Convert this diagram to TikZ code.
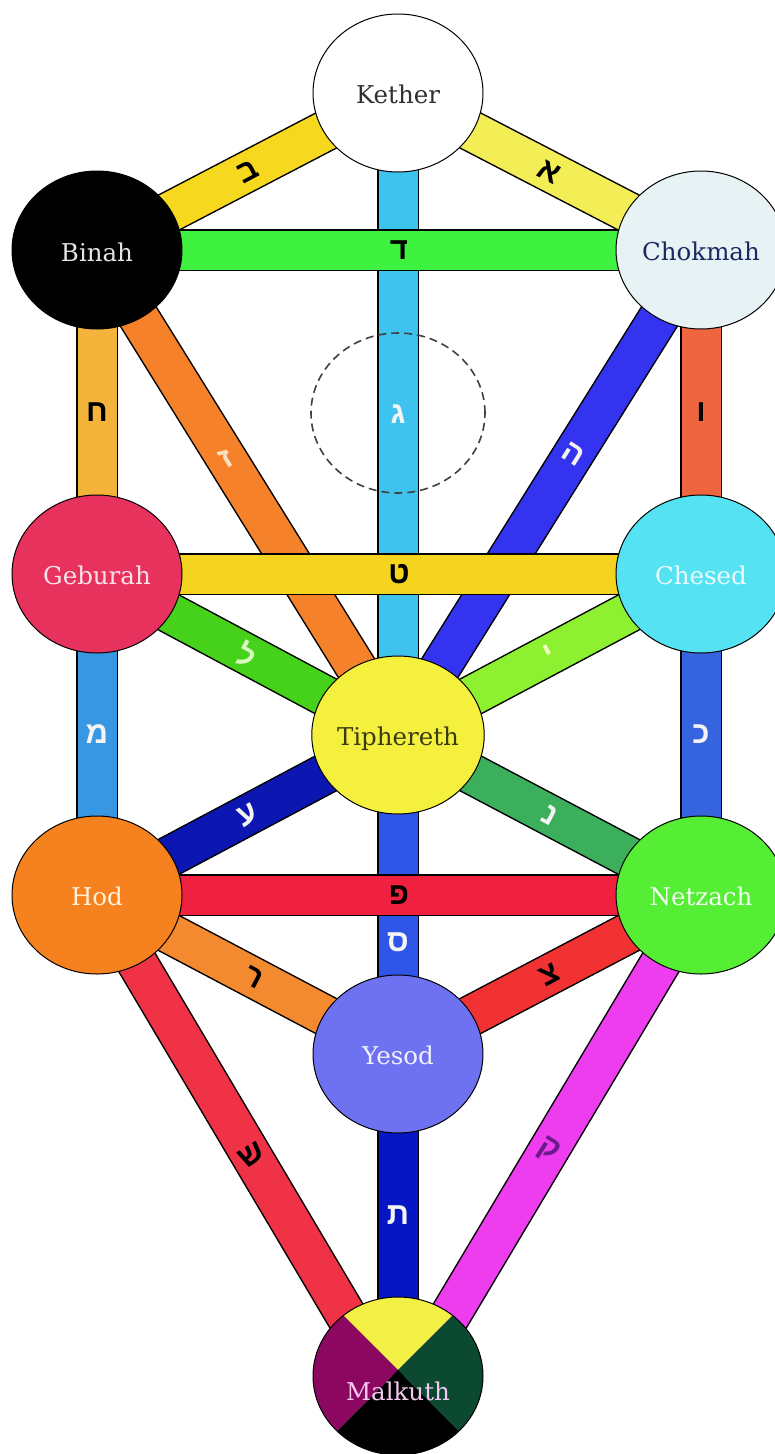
\documentclass[tikz,border=0pt]{standalone}
\usepackage{fontspec}
\setmainfont{DejaVu Serif}
\newfontfamily\hebfont[Script=Hebrew]{Liberation Sans}
\usetikzlibrary{shapes.geometric}
\pgfdeclarelayer{bg}
\pgfsetlayers{bg,main}
% sephiroth colours
\definecolor{cKether}{HTML}{FFFFFF}
\definecolor{tKether}{HTML}{303030}
\definecolor{cChokmah}{HTML}{E6F2F4}
\definecolor{tChokmah}{HTML}{1C2A62}
\definecolor{cBinah}{HTML}{000000}
\definecolor{tBinah}{HTML}{E4E4E4}
\definecolor{cChesed}{HTML}{55E2F2}
\definecolor{tChesed}{HTML}{EAFBFF}
\definecolor{cGeburah}{HTML}{E8325E}
\definecolor{tGeburah}{HTML}{F8E2EA}
\definecolor{cTiphereth}{HTML}{F5F03E}
\definecolor{tTiphereth}{HTML}{3A3A14}
\definecolor{cNetzach}{HTML}{55EE35}
\definecolor{tNetzach}{HTML}{F0FFF0}
\definecolor{cHod}{HTML}{F5821E}
\definecolor{tHod}{HTML}{FFF0D6}
\definecolor{cYesod}{HTML}{6E72F0}
\definecolor{tYesod}{HTML}{F2F2FF}
\definecolor{tMalkuth}{HTML}{F4C8F0}
\definecolor{mYellow}{HTML}{F2F044}
\definecolor{mMaroon}{HTML}{8C0860}
\definecolor{mGreen}{HTML}{0B4A30}
% path colours
\definecolor{pAleph}{HTML}{F3EE55}
\definecolor{pBeth}{HTML}{F6D81F}
\definecolor{pGimel}{HTML}{3EC3EF}
\definecolor{pDaleth}{HTML}{3FF23F}
\definecolor{pHe}{HTML}{3434F0}
\definecolor{pVav}{HTML}{EE6540}
\definecolor{pZayin}{HTML}{F5822A}
\definecolor{pCheth}{HTML}{F4B43C}
\definecolor{pTeth}{HTML}{F4D41E}
\definecolor{pYod}{HTML}{8DF132}
\definecolor{pKaph}{HTML}{3564DE}
\definecolor{pLamed}{HTML}{46D21B}
\definecolor{pMem}{HTML}{3797E3}
\definecolor{pNun}{HTML}{3CAF5C}
\definecolor{pSamekh}{HTML}{2F55E8}
\definecolor{pAyin}{HTML}{0B17B0}
\definecolor{pPe}{HTML}{F02040}
\definecolor{pTzaddi}{HTML}{F23232}
\definecolor{pQoph}{HTML}{EE3DEE}
\definecolor{pResh}{HTML}{F48A30}
\definecolor{pShin}{HTML}{F03246}
\definecolor{pTav}{HTML}{0616C4}
\definecolor{lLight}{HTML}{F4F4F4}
\definecolor{lZayin}{HTML}{FBE0C0}
\definecolor{lLamed}{HTML}{D8F8C0}
\definecolor{lYod}{HTML}{F4FFC8}
\definecolor{lQoph}{HTML}{6A1A8A}
\tikzset{
  seph/.style={ellipse, draw=black, line width=1pt, minimum width=170pt,
    minimum height=158pt, inner sep=0pt, font=\fontsize{24.5}{24.5}\selectfont},
  daath/.style={ellipse, draw=black!75, dash pattern=on 8pt off 5pt,
    line width=1.6pt, minimum width=174pt, minimum height=160pt, inner sep=0pt},
  pathedge/.style={line width=42pt, draw=black},
  pathfill/.style={line width=39pt},
  lett/.style={font=\hebfont\bfseries\fontsize{31}{31}\selectfont, inner sep=0pt},
}
\newcommand\sefpath[7]{%
  \draw[pathedge] (#1) -- (#2);
  \draw[pathfill, draw=#3] (#1) -- (#2)
    node[lett, text=#5, rotate=#6, pos=#7] {#4};
}
\newcommand\lowtext[2]{\raisebox{#1}[0pt][0pt]{#2}}
\begin{document}
\begin{tikzpicture}[x=1pt,y=-1pt]
\useasboundingbox (0,0) rectangle (775,1454);
% sephiroth
\node[seph, fill=cKether, text=tKether] (K) at (398,93) {\lowtext{-10pt}{Kether}};
\node[seph, fill=cChokmah, text=tChokmah] (Ch) at (701,250) {\lowtext{-10pt}{Chokmah}};
\node[seph, fill=cBinah, text=tBinah] (B) at (97,250) {\lowtext{-11pt}{Binah}};
\node[seph, fill=cChesed, text=tChesed] (Che) at (701,574) {\lowtext{-10pt}{Chesed}};
\node[seph, fill=cGeburah, text=tGeburah] (G) at (97,574) {\lowtext{-10pt}{Geburah}};
\node[seph, fill=cTiphereth, text=tTiphereth] (T) at (398,735) {\lowtext{-10pt}{Tiphereth}};
\node[seph, fill=cNetzach, text=tNetzach] (N) at (701,895) {\lowtext{-10pt}{Netzach}};
\node[seph, fill=cHod, text=tHod] (H) at (97,895) {\lowtext{-10pt}{Hod}};
\node[seph, fill=cYesod, text=tYesod] (Y) at (398,1054) {\lowtext{-10pt}{Yesod}};
\node[seph, text=tMalkuth, path picture={
    \fill[mYellow] ([yshift=6pt]path picture bounding box.center) -- ++(-150pt,150pt) -- ++(300pt,0pt) -- cycle;
    \fill[mMaroon] ([yshift=6pt]path picture bounding box.center) -- ++(-150pt,150pt) -- ++(0pt,-300pt) -- cycle;
    \fill[mGreen] ([yshift=6pt]path picture bounding box.center) -- ++(150pt,150pt) -- ++(0pt,-300pt) -- cycle;
    \fill[black] ([yshift=6pt]path picture bounding box.center) -- ++(-150pt,-150pt) -- ++(300pt,0pt) -- cycle;
  }] (M) at (398,1376) {\lowtext{-24pt}{Malkuth}};
\node[daath] (D) at (398,413) {};
\coordinate (mL) at (382,1376);
\coordinate (mR) at (414,1376);
% paths
\begin{pgfonlayer}{bg}
\sefpath{K.center}{Ch.center}{pAleph}{א}{black}{-27}{0.5}
\sefpath{B.center}{K.center}{pBeth}{ב}{black}{28}{0.5}
\sefpath{K.center}{T.center}{pGimel}{ג}{lLight}{0}{0.5}
\sefpath{Ch.center}{T.center}{pHe}{ה}{lLight}{-32}{0.42}
\sefpath{B.center}{T.center}{pZayin}{ז}{lZayin}{32}{0.43}
\sefpath{B.center}{Ch.center}{pDaleth}{ד}{black}{0}{0.5}
\sefpath{Ch.center}{Che.center}{pVav}{ו}{black}{0}{0.5}
\sefpath{B.center}{G.center}{pCheth}{ח}{black}{0}{0.5}
\sefpath{G.center}{T.center}{pLamed}{ל}{lLamed}{-28}{0.5}
\sefpath{T.center}{Che.center}{pYod}{י}{lYod}{28}{0.5}
\sefpath{G.center}{Che.center}{pTeth}{ט}{black}{0}{0.5}
\sefpath{G.center}{H.center}{pMem}{מ}{lLight}{0}{0.5}
\sefpath{Che.center}{N.center}{pKaph}{כ}{lLight}{0}{0.5}
\sefpath{H.center}{T.center}{pAyin}{ע}{lLight}{28}{0.5}
\sefpath{T.center}{N.center}{pNun}{נ}{lLight}{-28}{0.5}
\sefpath{T.center}{Y.center}{pSamekh}{ס}{lLight}{0}{0.65}
\sefpath{H.center}{N.center}{pPe}{פ}{black}{0}{0.5}
\sefpath{H.center}{Y.center}{pResh}{ר}{black}{-28}{0.52}
\sefpath{Y.center}{N.center}{pTzaddi}{צ}{black}{28}{0.5}
\sefpath{H.center}{mL}{pShin}{ש}{black}{31}{0.54}
\sefpath{N.center}{mR}{pQoph}{ק}{lQoph}{-32}{0.53}
\sefpath{Y.center}{M.center}{pTav}{ת}{lLight}{0}{0.5}
\end{pgfonlayer}
\end{tikzpicture}
\end{document}
